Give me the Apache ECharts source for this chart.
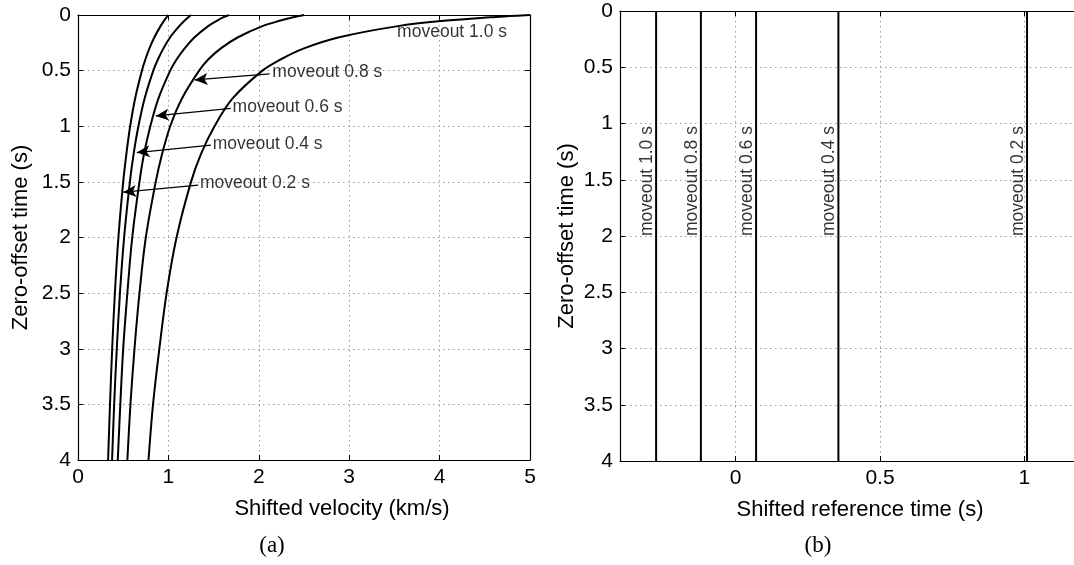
<!DOCTYPE html>
<html>
<head>
<meta charset="utf-8">
<script src="https://cdn.jsdelivr.net/npm/echarts@6.0.0/dist/echarts.min.js"></script>
<style>
  html, body { margin: 0; padding: 0; background: #fff; }
  #chart { width: 1074px; height: 565px; }
</style>
</head>
<body>
<div id="chart"></div>
<script>
// Zero-offset times (s) where each shifted-velocity curve is sampled
const zeroOffsetTimes = [0, 0.01, 0.02, 0.05, 0.1, 0.2, 0.3, 0.4, 0.5, 0.75, 1, 1.25, 1.5, 2, 2.5, 3, 3.5, 4];

// Shifted velocity (km/s) for each moveout
const velocityMoveout02 = [1.00, 0.99, 0.981, 0.953, 0.913, 0.845, 0.79, 0.745, 0.707, 0.632, 0.577, 0.535, 0.50, 0.447, 0.408, 0.378, 0.354, 0.333];
const velocityMoveout04 = [1.25, 1.235, 1.22, 1.18, 1.12, 1.02, 0.945, 0.884, 0.833, 0.737, 0.668, 0.615, 0.574, 0.51, 0.464, 0.429, 0.40, 0.377];
const velocityMoveout06 = [1.667, 1.64, 1.61, 1.54, 1.44, 1.29, 1.18, 1.09, 1.02, 0.89, 0.80, 0.73, 0.68, 0.60, 0.546, 0.50, 0.468, 0.44];
const velocityMoveout08 = [2.5, 2.44, 2.38, 2.24, 2.04, 1.77, 1.58, 1.44, 1.34, 1.15, 1.02, 0.93, 0.86, 0.75, 0.68, 0.625, 0.58, 0.546];
const velocityMoveout10 = [5.0, 4.77, 4.56, 4.08, 3.54, 2.89, 2.5, 2.24, 2.04, 1.71, 1.51, 1.36, 1.25, 1.09, 0.98, 0.90, 0.83, 0.78];

// Shifted reference time (s) for each moveout (constant with zero-offset time)
const refTimeNames = ['moveout 1.0 s', 'moveout 0.8 s', 'moveout 0.6 s', 'moveout 0.4 s', 'moveout 0.2 s'];
const refTimes = [-0.275, -0.12, 0.071, 0.356, 1.009];
const refTimeLabelAt = 2.0; // zero-offset time where the rotated labels start

// Curve annotations in panel (a): text anchors and arrows, in data units
const curveLabelNames = ['moveout 1.0 s', 'moveout 0.8 s', 'moveout 0.6 s', 'moveout 0.4 s', 'moveout 0.2 s'];
const curveLabelAnchors = [[3.53, 0.155], [2.15, 0.51], [1.71, 0.83], [1.49, 1.16], [1.35, 1.51]];
const arrowTails = [[2.12, 0.53], [1.69, 0.84], [1.47, 1.17], [1.33, 1.53]];
const arrowTips = [[1.29, 0.584], [0.86, 0.907], [0.65, 1.237], [0.50, 1.593]];

// Tick values
const refTimeTicks = [0, 0.5, 1];

const FONT = 'Liberation Sans, Arial, Helvetica, sans-serif';
const TICK_SIZE = 21;
const NAME_SIZE = 22;
const NOTE_SIZE = 17.5;

const gridLine = { show: true, lineStyle: { color: '#9a9a9a', width: 1, type: [1.5, 3.5] } };
const axisLine = { show: true, onZero: false, lineStyle: { color: '#000', width: 1.2 } };
const axisTick = { show: true, inside: true, length: 5, lineStyle: { color: '#000', width: 1 } };

function mainX(grid, cfg) {
  return Object.assign({
    gridIndex: grid, type: 'value', position: 'bottom',
    axisLine, axisTick,
    axisLabel: { show: true, color: '#000', fontSize: TICK_SIZE, fontFamily: FONT, margin: 7, showMinLabel: true, showMaxLabel: true },
    splitLine: gridLine,
    nameLocation: 'middle', nameGap: 38
  }, cfg);
}
function mainY(grid, cfg) {
  return Object.assign({
    gridIndex: grid, type: 'value', position: 'left', inverse: true,
    min: 0, max: 4, interval: 0.5,
    axisLine, axisTick,
    axisLabel: { show: true, color: '#000', fontSize: TICK_SIZE, fontFamily: FONT, margin: 7, showMinLabel: true, showMaxLabel: true },
    splitLine: gridLine,
    name: 'Zero-offset time (s)', nameLocation: 'middle', nameGap: 46,
    nameTextStyle: { color: '#000', fontSize: NAME_SIZE, fontFamily: FONT }
  }, cfg);
}
// Box edges (top / right) with inward ticks and no labels
function boxX(grid, cfg) {
  return Object.assign({
    gridIndex: grid, type: 'value', position: 'top',
    axisLine, axisTick, axisLabel: { show: false }, splitLine: { show: false }
  }, cfg);
}
function boxY(grid, cfg) {
  return Object.assign({
    gridIndex: grid, type: 'value', position: 'right', inverse: true,
    min: 0, max: 4, interval: 0.5,
    axisLine, axisTick, axisLabel: { show: false }, splitLine: { show: false }
  }, cfg);
}

const curveSets = [velocityMoveout02, velocityMoveout04, velocityMoveout06, velocityMoveout08, velocityMoveout10];

const series = [];
curveSets.forEach(function (vals) {
  series.push({
    type: 'line', xAxisIndex: 0, yAxisIndex: 0,
    data: zeroOffsetTimes.map(function (t, i) { return [vals[i], t]; }),
    showSymbol: false, smooth: 0.35, silent: true,
    lineStyle: { color: '#000', width: 2 },
    z: 3
  });
});

// Arrows pointing from labels to curves
series.push({
  type: 'line', xAxisIndex: 0, yAxisIndex: 0, data: [], silent: true,
  markLine: {
    silent: true, animation: false,
    symbol: ['none', 'arrow'], symbolSize: [9, 13],
    label: { show: false },
    lineStyle: { color: '#000', width: 1.3, type: 'solid' },
    data: arrowTails.map(function (p, i) {
      return [{ coord: p }, { coord: arrowTips[i] }];
    })
  }
});

// Curve labels
series.push({
  type: 'scatter', xAxisIndex: 0, yAxisIndex: 0, symbolSize: 0, silent: true,
  data: curveLabelAnchors.map(function (p, i) { return { value: p, name: curveLabelNames[i] }; }),
  label: {
    show: true, position: 'right', distance: 0, formatter: '{b}',
    color: '#000', fontSize: NOTE_SIZE, fontFamily: FONT
  },
  z: 5
});

// Panel (b): constant reference times
refTimes.forEach(function (x) {
  series.push({
    type: 'line', xAxisIndex: 2, yAxisIndex: 2,
    data: [[x, 0], [x, 4]],
    showSymbol: false, silent: true,
    lineStyle: { color: '#000', width: 2 },
    z: 3
  });
});
series.push({
  type: 'scatter', xAxisIndex: 2, yAxisIndex: 2, symbolSize: 0, silent: true,
  data: refTimes.map(function (x, i) { return { value: [x, refTimeLabelAt], name: refTimeNames[i] }; }),
  label: {
    show: true, position: 'inside', rotate: 90, align: 'left', verticalAlign: 'bottom',
    formatter: '{b}', color: '#000', fontSize: NOTE_SIZE, fontFamily: FONT
  },
  z: 5
});

const option = {
  animation: false,
  backgroundColor: '#fff',
  grid: [
    { left: 78, top: 15, width: 452, height: 445, outerBoundsMode: 'none', containLabel: false },
    { left: 620, top: 11, width: 520, height: 450, outerBoundsMode: 'none', containLabel: false }
  ],
  xAxis: [
    mainX(0, {
      min: 0, max: 5, interval: 1, name: 'Shifted velocity (km/s)',
      nameTextStyle: { color: '#000', fontSize: NAME_SIZE, fontFamily: FONT, padding: [0, 0, 0, 76] }
    }),
    boxX(0, { min: 0, max: 5, interval: 1 }),
    mainX(1, {
      min: -0.4, max: 1.4, name: 'Shifted reference time (s)',
      nameTextStyle: { color: '#000', fontSize: NAME_SIZE, fontFamily: FONT, padding: [0, 40, 0, 0] },
      axisTick: Object.assign({}, axisTick, { customValues: refTimeTicks }),
      axisLabel: { show: true, color: '#000', fontSize: TICK_SIZE, fontFamily: FONT, margin: 7, customValues: refTimeTicks }
    }),
    boxX(1, { min: -0.4, max: 1.4, axisTick: Object.assign({}, axisTick, { customValues: refTimeTicks }) })
  ],
  yAxis: [
    mainY(0, {}),
    boxY(0, {}),
    mainY(1, { nameGap: 42 }),
    boxY(1, {})
  ],
  graphic: [
    { type: 'text', x: 272, y: 546, style: { text: '(a)', fill: '#000', font: '23px "Liberation Serif", serif', textAlign: 'center', textVerticalAlign: 'middle' } },
    { type: 'text', x: 818, y: 546, style: { text: '(b)', fill: '#000', font: '23px "Liberation Serif", serif', textAlign: 'center', textVerticalAlign: 'middle' } }
  ],
  series: series
};

const chart = echarts.init(document.getElementById('chart'), null, { renderer: 'canvas' });
chart.setOption(option);
</script>
</body>
</html>
